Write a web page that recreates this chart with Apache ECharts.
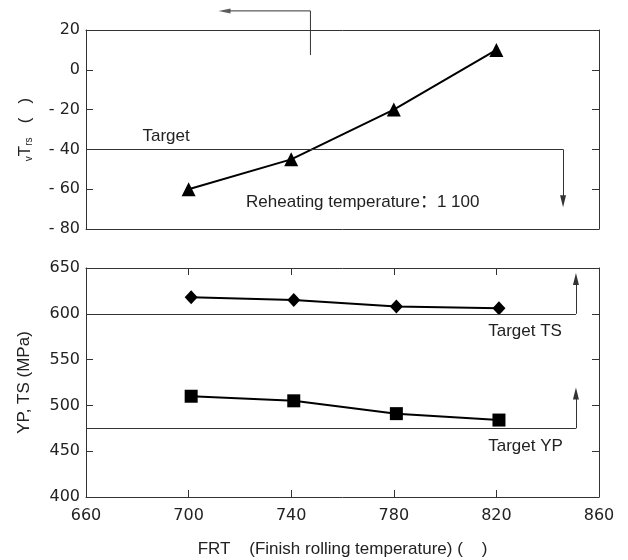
<!DOCTYPE html>
<html>
<head>
<meta charset="utf-8">
<script src="https://cdn.jsdelivr.net/npm/echarts@6/dist/echarts.min.js"></script>
<style>
  html, body { margin: 0; padding: 0; background: #fff; }
  #chart { width: 628px; height: 560px; }
</style>
</head>
<body>
<div id="chart"></div>
<script>
// FRT positions of the measured points
const frtTop = [700, 740, 780, 820];
const frtBottom = [701, 741, 781, 821];
// vTrs (upper panel)
const vTrs = [-60, -45, -20, 10];
// strengths (lower panel)
const tsValues = [618, 615, 608, 606];
const ypValues = [510, 505, 491, 484];

const FONT = "'Liberation Sans', Arial, 'Noto Sans CJK SC', sans-serif";
const TICK_FONT = "'DejaVu Sans', 'Liberation Sans', Arial, sans-serif";
const INK = '#222';
const FRAME = '#333';

const chart = echarts.init(document.getElementById('chart'));

const pairs = (xs, ys) => xs.map((x, i) => [x, ys[i]]);

const frameAxis = (extra) => Object.assign({
  type: 'value',
  axisLine: { show: true, onZero: false, lineStyle: { color: FRAME, width: 1 } },
  axisTick: { show: false },
  axisLabel: { show: false },
  splitLine: { show: false },
}, extra);

const tickInside = { show: true, inside: true, length: 7, lineStyle: { color: FRAME, width: 1 } };
const labelStyle = { color: INK, fontSize: 17, fontFamily: FONT };
const tickLabelStyle = { color: INK, fontSize: 16, fontFamily: TICK_FONT };

const guide = { color: FRAME, width: 1, type: 'solid' };
const textMarks = (items) => ({
  silent: true,
  symbol: 'circle',
  symbolSize: 0,
  animation: false,
  label: { show: true, position: 'right', distance: 0, formatter: '{b}', ...labelStyle },
  data: items,
});

const option = {
  animation: false,
  backgroundColor: '#fff',
  grid: [
    { left: 86, top: 30, width: 513, height: 199 },
    { left: 86, top: 268, width: 513, height: 229 },
  ],
  xAxis: [
    frameAxis({ gridIndex: 0, min: 660, max: 860, interval: 40 }),
    frameAxis({ gridIndex: 0, position: 'top', min: 660, max: 860, interval: 40 }),
    frameAxis({
      gridIndex: 1, min: 660, max: 860, interval: 40,
      axisTick: tickInside,
      axisLabel: { show: true, margin: 11, ...tickLabelStyle },
      name: 'FRT    (Finish rolling temperature) (    )',
      nameLocation: 'middle',
      nameGap: 44,
      nameTextStyle: labelStyle,
    }),
    frameAxis({ gridIndex: 1, position: 'top', min: 660, max: 860, interval: 40, axisTick: tickInside }),
  ],
  yAxis: [
    frameAxis({
      gridIndex: 0, min: -80, max: 20, interval: 20,
      axisTick: tickInside,
      axisLabel: { show: true, margin: 6, ...tickLabelStyle, formatter: (v) => (v < 0 ? '- ' + (-v) : String(v)) },
      name: '{s|v}T{s|rs}   (   )',
      nameLocation: 'middle',
      nameGap: 52,
      nameTextStyle: { ...labelStyle, rich: { s: { fontSize: 10, fontFamily: FONT, color: INK, verticalAlign: 'bottom' } } },
    }),
    frameAxis({ gridIndex: 0, position: 'right', min: -80, max: 20, interval: 20, axisTick: tickInside }),
    frameAxis({
      gridIndex: 1, min: 400, max: 650, interval: 50,
      axisTick: tickInside,
      axisLabel: { show: true, margin: 6, ...tickLabelStyle },
      name: 'YP, TS (MPa)',
      nameLocation: 'middle',
      nameGap: 53,
      nameTextStyle: labelStyle,
    }),
    frameAxis({ gridIndex: 1, position: 'right', min: 400, max: 650, interval: 50, axisTick: tickInside }),
  ],
  series: [
    {
      name: 'vTrs',
      type: 'line',
      xAxisIndex: 0,
      yAxisIndex: 0,
      clip: false,
      data: pairs(frtTop, vTrs),
      symbol: 'triangle',
      symbolSize: 14,
      lineStyle: { color: '#000', width: 2 },
      itemStyle: { color: '#000' },
      markLine: {
        silent: true,
        symbol: 'none',
        animation: false,
        label: { show: false },
        lineStyle: guide,
        data: [
          [{ coord: [660, -40] }, { coord: [846, -40] }],
          [{ coord: [846, -40] }, { coord: [846, -66], symbol: 'triangle', symbolSize: [6, 12] }],
        ],
      },
      markPoint: textMarks([
        { name: 'Target', coord: [682, -33.3] },
        { name: 'Reheating temperature：1 100', coord: [722.4, -66.6] },
      ]),
    },
    {
      // axis pointer above the upper panel (points to the left axis)
      name: 'axis-guide',
      type: 'line',
      xAxisIndex: 0,
      yAxisIndex: 0,
      clip: false,
      silent: true,
      symbol: 'none',
      lineStyle: guide,
      data: [[747.5, 7.4], [747.5, 29.6], [716, 29.6]],
    },
    {
      name: 'axis-guide-head',
      type: 'scatter',
      xAxisIndex: 0,
      yAxisIndex: 0,
      clip: false,
      silent: true,
      symbol: 'triangle',
      symbolRotate: 90,
      symbolSize: [5, 12],
      itemStyle: { color: FRAME },
      data: [[714, 29.6]],
    },
    {
      name: 'TS',
      type: 'line',
      xAxisIndex: 2,
      yAxisIndex: 2,
      clip: false,
      data: pairs(frtBottom, tsValues),
      symbol: 'diamond',
      symbolSize: [13, 14],
      lineStyle: { color: '#000', width: 2 },
      itemStyle: { color: '#000' },
      markLine: {
        silent: true,
        symbol: 'none',
        animation: false,
        label: { show: false },
        lineStyle: guide,
        data: [
          [{ coord: [660, 600] }, { coord: [851, 600] }],
          [{ coord: [851, 600] }, { coord: [851, 638], symbol: 'triangle', symbolSize: [6, 12] }],
        ],
      },
      markPoint: textMarks([{ name: 'Target TS', coord: [816.8, 580.4] }]),
    },
    {
      name: 'YP',
      type: 'line',
      xAxisIndex: 2,
      yAxisIndex: 2,
      clip: false,
      data: pairs(frtBottom, ypValues),
      symbol: 'rect',
      symbolSize: 13,
      lineStyle: { color: '#000', width: 2 },
      itemStyle: { color: '#000' },
      markLine: {
        silent: true,
        symbol: 'none',
        animation: false,
        label: { show: false },
        lineStyle: guide,
        data: [
          [{ coord: [660, 475] }, { coord: [851, 475] }],
          [{ coord: [851, 475] }, { coord: [851, 513], symbol: 'triangle', symbolSize: [6, 12] }],
        ],
      },
      markPoint: textMarks([{ name: 'Target YP', coord: [816.8, 455.8] }]),
    },
  ],
};

chart.setOption(option);
</script>
</body>
</html>
